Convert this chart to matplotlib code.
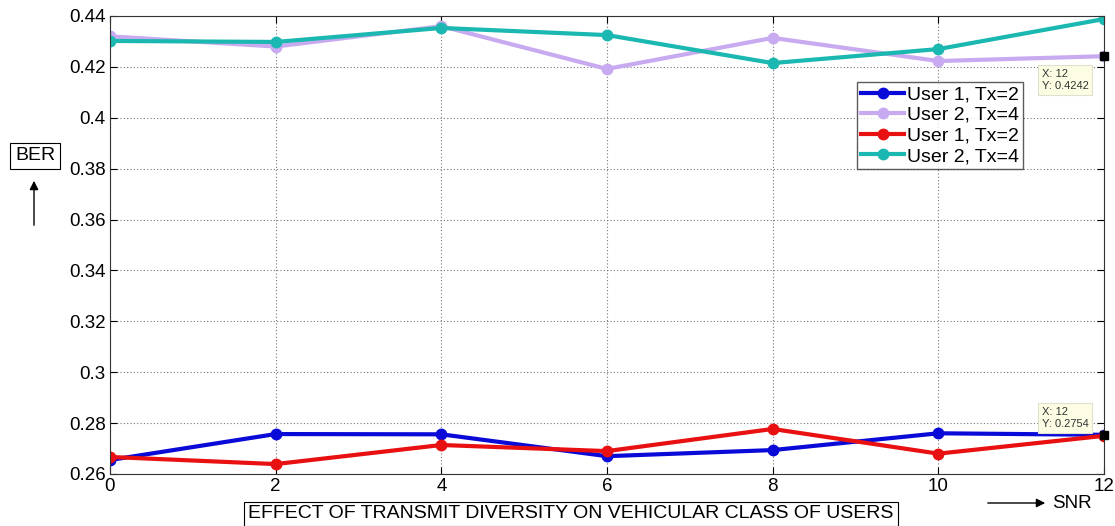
import numpy as np
import matplotlib.pyplot as plt
from matplotlib.patches import FancyArrowPatch

plt.rcParams['font.family'] = ['Liberation Sans', 'DejaVu Sans']

snr = [0, 2, 4, 6, 8, 10, 12]
u1_tx2_a = [0.2655, 0.2757, 0.2756, 0.2670, 0.2694, 0.2760, 0.2754]
u2_tx4_a = [0.4320, 0.4280, 0.4360, 0.4192, 0.4314, 0.4223, 0.4242]
u1_tx2_b = [0.2667, 0.2639, 0.2714, 0.2690, 0.2777, 0.2680, 0.2750]
u2_tx4_b = [0.4302, 0.4298, 0.4353, 0.4325, 0.4215, 0.4270, 0.4388]
labels = ['User 1, Tx=2', 'User 2, Tx=4', 'User 1, Tx=2', 'User 2, Tx=4']
colors = ['#0a0ad8', '#c8aaf0', '#e81010', '#1ab8b0']
tips = [(12, 0.4242), (12, 0.2754)]

fig = plt.figure(figsize=(11.15, 5.26), dpi=100)
ax = fig.add_axes([110/1115, 1-474/526, (1104-110)/1115, (474-16)/526])

for ys, lab, c in zip([u1_tx2_a, u2_tx4_a, u1_tx2_b, u2_tx4_b], labels, colors):
    ax.plot(snr, ys, '-o', color=c, lw=3, ms=7.5, label=lab)

ax.set_xlim(0, 12)
ax.set_ylim(0.26, 0.44)
ax.set_xticks(snr)
ax.set_yticks(np.arange(0.26, 0.4401, 0.02))
ax.set_yticklabels(['0.26', '0.28', '0.3', '0.32', '0.34', '0.36', '0.38', '0.4', '0.42', '0.44'])
ax.tick_params(direction='in', labelsize=13.5, length=5, top=True, right=True, pad=3)
ax.grid(True, linestyle=(0, (1, 2)), color='#777777', lw=0.8)
for s in ax.spines.values():
    s.set_color('#333333')

# datatips
offs = [(-45, -25), (-45, 4)]
for (x, y), o in zip(tips, offs):
    ax.plot(x, y, 's', color='black', ms=6, clip_on=False, zorder=5)
    ax.annotate('X: %g\nY: %.4f' % (x, y), (x, y), xytext=o, textcoords='offset points',
                fontsize=8, va='bottom', ha='left', linespacing=1.25, color='#333333',
                bbox=dict(boxstyle='square,pad=0.35', fc='#fdfde4', ec='#e0e0d0', lw=0.8))

ax.legend(loc='upper left', bbox_to_anchor=(0.752, 0.856), fontsize=14, frameon=True, fancybox=False,
          edgecolor='#333333', borderpad=0.2, handlelength=2.2, handletextpad=0.15, labelspacing=0.15,
          borderaxespad=0)

fig.text(35/1115, 1-156/526, 'BER', fontsize=14, ha='center', va='center',
         bbox=dict(boxstyle='square,pad=0.25', fc='white', ec='black', lw=0.8))
fig.patches.append(FancyArrowPatch((34/1115, 1-228/526), (34/1115, 1-178/526),
                   transform=fig.transFigure, arrowstyle='-|>', mutation_scale=13, color='black', lw=1))
fig.text(571/1115, 1-514/526, 'EFFECT OF TRANSMIT DIVERSITY ON VEHICULAR CLASS OF USERS', fontsize=14,
         ha='center', va='center',
         bbox=dict(boxstyle='square,pad=0.2', fc='white', ec='black', lw=0.8))
fig.patches.append(FancyArrowPatch((985/1115, 1-503/526), (1048/1115, 1-503/526),
                   transform=fig.transFigure, arrowstyle='-|>', mutation_scale=13, color='black', lw=1))
fig.text(1052/1115, 1-503/526, 'SNR', fontsize=13.5, ha='left', va='center')

fig.savefig('out.png', dpi=100)
